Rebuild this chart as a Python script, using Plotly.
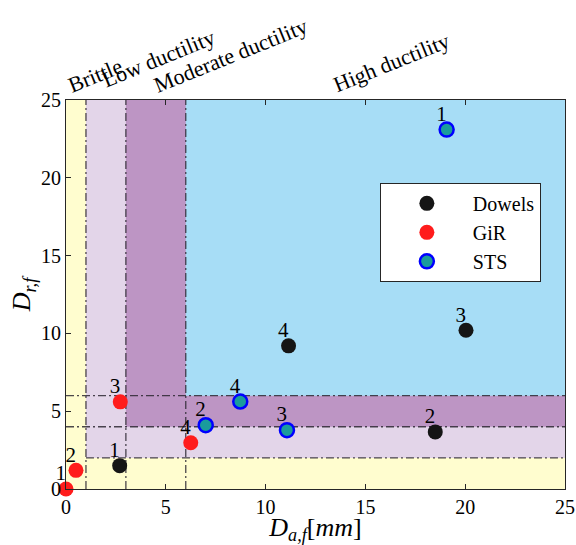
import plotly.graph_objects as go

# ---- data ----
dowels_x = [2.69, 18.5, 20.04, 11.15]
dowels_y = [1.5, 3.67, 10.2, 9.2]
gir_x = [0.0, 0.5, 2.72, 6.25]
gir_y = [0.0, 1.2, 5.6, 2.97]
sts_x = [19.07, 7.0, 11.07, 8.73]
sts_y = [23.1, 4.1, 3.78, 5.62]
point_labels = ["1", "2", "3", "4"]

x_limits = [1, 3, 6]      # ductility class limits on D_a,f
y_limits = [2, 4, 6]      # ductility class limits on D_r,f
axis_max = 25
tick_vals = [0, 5, 10, 15, 20, 25]
region_names = ["Brittle", "Low ductility", "Moderate ductility", "High ductility"]

FONT = "Liberation Serif"
region_colors = ["#FFFDCF", "#E3D5E9", "#BD95C4", "#A7DDF6"]

fig = go.Figure()

series = [
    ("Dowels", dowels_x, dowels_y, dict(size=15, color="#151515")),
    ("GiR", gir_x, gir_y, dict(size=15, color="#FF1C1C")),
    ("STS", sts_x, sts_y, dict(size=14, color="#1A9C9C",
                               line=dict(color="#0000FF", width=2.5))),
]
for name, xs, ys, mk in series:
    fig.add_trace(go.Scatter(x=xs, y=ys, mode="markers", name=name,
                             marker=mk, cliponaxis=False))

# point number labels (drawn at the same data points)
for name, xs, ys, mk in series:
    fig.add_trace(go.Scatter(
        x=xs, y=ys, mode="markers+text", showlegend=False, hoverinfo="skip",
        text=[t + "\u00a0\u00a0" for t in point_labels],
        textposition="top center",
        textfont=dict(family=FONT, size=21, color="black"),
        marker=dict(size=4, opacity=0), cliponaxis=False))

# region shading (nested L-shaped zones)
x_starts = [0] + x_limits
y_starts = [0] + y_limits
for i, c in enumerate(region_colors):
    fig.add_shape(type="rect", xref="x", yref="y", layer="below",
                  x0=x_starts[i], x1=axis_max, y0=y_starts[i], y1=axis_max,
                  fillcolor=c, line=dict(width=0))

dash = "8px,3px,2px,3px"
lc = "rgba(45,40,50,0.85)"
for xv in x_limits:
    fig.add_shape(type="line", xref="x", yref="y", layer="below",
                  x0=xv, x1=xv, y0=0, y1=axis_max,
                  line=dict(color=lc, width=1.3, dash=dash))
h_starts = [x_limits[0], 0, 0]
for yv, xs in zip(y_limits, h_starts):
    fig.add_shape(type="line", xref="x", yref="y", layer="below",
                  x0=xs, x1=axis_max, y0=yv, y1=yv,
                  line=dict(color=lc, width=1.3, dash=dash))

# rotated class names above the plot: (x, xshift px, yshift px)
name_pos = [(0.0, -4, 0), (1.5, 0, 5), (4.1, 0, 0), (13.1, 0, 0)]
for name, (xp, xs_, ys) in zip(region_names, name_pos):
    fig.add_annotation(text=name, x=xp, xref="x", y=1.0, yref="paper",
                       xanchor="left", yanchor="bottom",
                       xshift=xs_, yshift=ys,
                       textangle=-22, showarrow=False,
                       font=dict(family=FONT, size=22, color="black"))

axis_common = dict(range=[0, axis_max], tickvals=tick_vals, ticks="inside",
                   ticklen=5, tickcolor="#262626", showline=True,
                   linecolor="#262626", linewidth=1, showgrid=False,
                   zeroline=False, automargin=False,
                   tickfont=dict(family=FONT, size=20, color="black"))

fig.update_xaxes(**axis_common, mirror="ticks",
                 title=dict(text="<i>D</i><sub><i>a,f</i></sub>[<i>mm</i>]",
                            font=dict(family=FONT, size=26, color="black"),
                            standoff=0))
fig.update_yaxes(**axis_common, mirror=True,
                 title=dict(text="<i>D</i><sub><i>r,f</i></sub>",
                            font=dict(family=FONT, size=26, color="black"),
                            standoff=2))

fig.update_layout(
    width=576, height=545,
    margin=dict(l=66, r=11, t=100, b=56),
    paper_bgcolor="white", plot_bgcolor="white",
    showlegend=True,
    legend=dict(x=0.629, y=0.787, xanchor="left", yanchor="top",
                bgcolor="white", bordercolor="#262626", borderwidth=1,
                font=dict(family=FONT, size=20, color="black"),
                itemwidth=82, tracegroupgap=0),
)

fig.write_html("out.html", config={"displayModeBar": False},
               post_script="document.body.style.margin='0';"
                           "document.body.style.overflow='hidden';")
